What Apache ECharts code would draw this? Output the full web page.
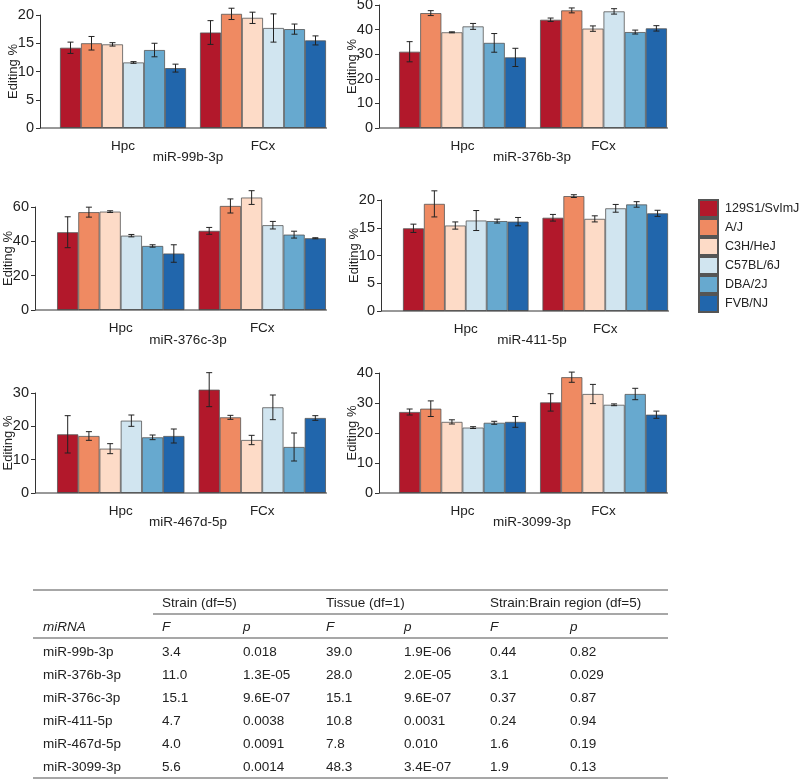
<!DOCTYPE html>
<html><head><meta charset="utf-8">
<script src="https://cdn.jsdelivr.net/npm/echarts@6/dist/echarts.min.js"></script>
<style>html,body{margin:0;padding:0;background:#fff}#c{width:800px;height:780px}</style>
</head><body><div id="c"></div>
<script>
// ---------- data ----------
const strains = ['129S1/SvImJ','A/J','C3H/HeJ','C57BL/6J','DBA/2J','FVB/NJ'];
const regions = ['Hpc','FCx'];
const panelNames = ['miR-99b-3p','miR-376b-3p','miR-376c-3p','miR-411-5p','miR-467d-5p','miR-3099-3p'];
// each row = one strain: [Hpc, FCx]
const miR99b_mean  = [[14.2,16.9],[15.0,20.2],[14.8,19.5],[11.6,17.7],[13.8,17.5],[10.6,15.5]];
const miR99b_err   = [[1.0,2.1],[1.2,1.0],[0.3,1.0],[0.15,2.5],[1.2,0.9],[0.7,0.8]];
const miR376b_mean = [[31.0,44.0],[46.7,47.8],[38.9,40.4],[41.3,47.4],[34.6,39.0],[28.7,40.5]];
const miR376b_err  = [[4.1,0.7],[1.0,1.0],[0.2,1.1],[1.2,1.1],[3.8,0.8],[3.7,1.1]];
const miR376c_mean = [[45.3,46.1],[57.0,60.6],[57.3,65.5],[43.3,49.4],[37.3,43.9],[32.9,41.8]];
const miR376c_err  = [[9.0,2.0],[2.9,4.1],[0.5,4.0],[0.7,2.2],[0.7,2.0],[5.1,0.3]];
const miR411_mean  = [[14.9,16.8],[19.3,20.7],[15.4,16.6],[16.3,18.5],[16.2,19.2],[16.1,17.6]];
const miR411_err   = [[0.75,0.6],[2.35,0.25],[0.65,0.55],[1.8,0.7],[0.35,0.5],[0.75,0.55]];
const miR467d_mean = [[17.6,31.0],[17.1,22.7],[13.3,15.9],[21.7,25.7],[16.7,13.8],[17.1,22.5]];
const miR467d_err  = [[5.6,5.1],[1.3,0.6],[1.5,1.4],[1.7,3.7],[0.7,4.2],[2.1,0.7]];
const miR3099_mean = [[27.0,30.2],[28.1,38.6],[23.7,33.0],[21.8,29.4],[23.4,33.0],[23.7,26.1]];
const miR3099_err  = [[1.0,2.9],[2.6,1.7],[0.7,3.2],[0.3,0.3],[0.5,1.9],[1.8,1.2]];
const yMax      = [20, 50, 60, 20, 30, 40];
const yInterval = [5, 10, 20, 5, 10, 10];

// table
const tableGroups = ['Strain (df=5)','Tissue (df=1)','Strain:Brain region (df=5)'];
const tableSub = ['miRNA','F','p','F','p','F','p'];
const strainF  = ['3.4','11.0','15.1','4.7','4.0','5.6'];
const strainP  = ['0.018','1.3E-05','9.6E-07','0.0038','0.0091','0.0014'];
const tissueF  = ['39.0','28.0','15.1','10.8','7.8','48.3'];
const tissueP  = ['1.9E-06','2.0E-05','9.6E-07','0.0031','0.010','3.4E-07'];
const interF   = ['0.44','3.1','0.37','0.24','1.6','1.9'];
const interP   = ['0.82','0.029','0.87','0.94','0.19','0.13'];

// ---------- style / layout ----------
const colors = ['#b2182b','#ef8a62','#fddbc7','#d1e5f0','#67a9cf','#2166ac'];
const FONT = 'Liberation Sans, Arial, sans-serif';
const TXT = '#222';
const means = [miR99b_mean, miR376b_mean, miR376c_mean, miR411_mean, miR467d_mean, miR3099_mean];
const errs  = [miR99b_err, miR376b_err, miR376c_err, miR411_err, miR467d_err, miR3099_err];
const layout = [
  {left:53,  width:280, top:15,  height:113, off:13, tx:188, ty:157},
  {left:392, width:282, top:5,   height:123, off:13, tx:532, ty:157},
  {left:50,  width:283, top:207, height:103, off:15, tx:188, ty:340},
  {left:396, width:279, top:200, height:111, off:15, tx:532, ty:340},
  {left:50,  width:283, top:393, height:100, off:15, tx:188, ty:522},
  {left:392, width:282, top:373, height:120, off:13, tx:532, ty:522}
];
const CAT_GAP = 0.1;

const grids = [], xAxes = [], yAxes = [], series = [], graphics = [];
layout.forEach((L, g) => {
  grids.push({left:L.left, top:L.top, width:L.width, height:L.height, containLabel:false, outerBoundsMode:'none'});
  xAxes.push({
    type:'category', gridIndex:g, data:regions,
    axisLine:{show:false},
    axisTick:{show:false},
    axisLabel:{color:TXT, fontSize:13.5, fontFamily:FONT, margin:11},
    splitLine:{show:false}
  });
  yAxes.push({
    type:'value', gridIndex:g, min:0, max:yMax[g], interval:yInterval[g], offset:L.off,
    name:'Editing %', nameLocation:'middle', nameRotate:90, nameGap:20, nameMoveOverlap:false,
    nameTextStyle:{color:TXT, fontSize:13, fontFamily:FONT},
    axisLine:{show:true, lineStyle:{color:'#333', width:1}},
    axisTick:{show:true, length:4, lineStyle:{color:'#333'}},
    axisLabel:{color:TXT, fontSize:14.5, fontFamily:FONT, margin:6},
    splitLine:{show:false}
  });
  strains.forEach((s, i) => {
    series.push({
      type:'bar', name:s, xAxisIndex:g, yAxisIndex:g,
      data: means[g][i].slice(),
      barGap:'0%', barCategoryGap:(CAT_GAP * 100) + '%', clip:false,
      itemStyle:{color:colors[i], borderColor:'#555', borderWidth:0.8},
      emphasis:{disabled:true}
    });
  });
  const edata = [];
  for (let i = 0; i < strains.length; i++)
    for (let c = 0; c < regions.length; c++)
      edata.push([c, means[g][i][c], errs[g][i][c], i]);
  const off = L.off;
  series.push({
    type:'custom', xAxisIndex:g, yAxisIndex:g, z:10, silent:true, clip:false,
    encode:{x:0, y:1},
    data: edata,
    renderItem(params, api) {
      const c = api.value(0), v = api.value(1), e = api.value(2), s = api.value(3);
      const band = api.size([1, 0])[0];
      const bw = band * (1 - CAT_GAP) / strains.length;
      const x = api.coord([c, v])[0] + (s - (strains.length - 1) / 2) * bw;
      const y1 = api.coord([c, v - e])[1], y2 = api.coord([c, v + e])[1];
      const cap = 3, st = {stroke:'#222', lineWidth:1};
      const children = [
        {type:'line', shape:{x1:x, y1:y1, x2:x, y2:y2}, style:st},
        {type:'line', shape:{x1:x-cap, y1:y1, x2:x+cap, y2:y1}, style:st},
        {type:'line', shape:{x1:x-cap, y1:y2, x2:x+cap, y2:y2}, style:st}
      ];
      if (params.dataIndex === 0) {
        // x-axis baseline: from the (offset) y axis to the end of the last bar group
        const cs = params.coordSys;
        const y0 = api.coord([0, 0])[1];
        children.unshift({type:'line', z2:-1,
          shape:{x1:cs.x - off, y1:y0, x2:cs.x + cs.width - band * CAT_GAP / 2 + 1, y2:y0},
          style:{stroke:'#333', lineWidth:1}});
      }
      return {type:'group', children};
    }
  });
  graphics.push({type:'text', x:L.tx, y:L.ty,
    style:{text:panelNames[g], fill:TXT, font:'13.5px ' + FONT, align:'center', verticalAlign:'middle', textAlign:'center', textVerticalAlign:'middle'}});
});

// ---------- table ----------
const colX = [43, 162, 243, 326, 404, 490, 570];
const groupX = [162, 326, 490];
const tblLeft = 33, tblRight = 668;
const rowY0 = 652, rowH = 23;
function txt(t, x, y, italic) {
  return {type:'text', x:x, y:y, style:{text:t, fill:TXT,
    font:(italic ? 'italic ' : '') + '13.5px ' + FONT,
    align:'left', verticalAlign:'middle', textAlign:'left', textVerticalAlign:'middle'}};
}
function hline(x1, x2, y) {
  return {type:'line', shape:{x1:x1, y1:y, x2:x2, y2:y}, style:{stroke:'#8a8a8a', lineWidth:1.5}};
}
graphics.push(hline(tblLeft, tblRight, 590));
graphics.push(hline(153, tblRight, 614));
graphics.push(hline(tblLeft, tblRight, 638));
graphics.push(hline(tblLeft, tblRight, 778));
tableGroups.forEach((t, i) => graphics.push(txt(t, groupX[i], 603, false)));
tableSub.forEach((t, i) => graphics.push(txt(t, colX[i], 627, true)));
const cols = [panelNames, strainF, strainP, tissueF, tissueP, interF, interP];
for (let r = 0; r < panelNames.length; r++) {
  cols.forEach((col, ci) => graphics.push(txt(col[r], colX[ci], rowY0 + r * rowH, false)));
}

const chart = echarts.init(document.getElementById('c'), null, {renderer:'canvas'});
chart.setOption({
  animation:false,
  backgroundColor:'#fff',
  textStyle:{fontFamily:FONT},
  grid:grids, xAxis:xAxes, yAxis:yAxes, series:series,
  legend:{
    data:strains, orient:'vertical', left:698, top:199, padding:0,
    itemWidth:19, itemHeight:17, itemGap:0, icon:'rect',
    textStyle:{color:TXT, fontSize:12.5, fontFamily:FONT, padding:[0,0,0,2]},
    selectedMode:false
  },
  graphic:graphics
});
</script>
</body></html>
